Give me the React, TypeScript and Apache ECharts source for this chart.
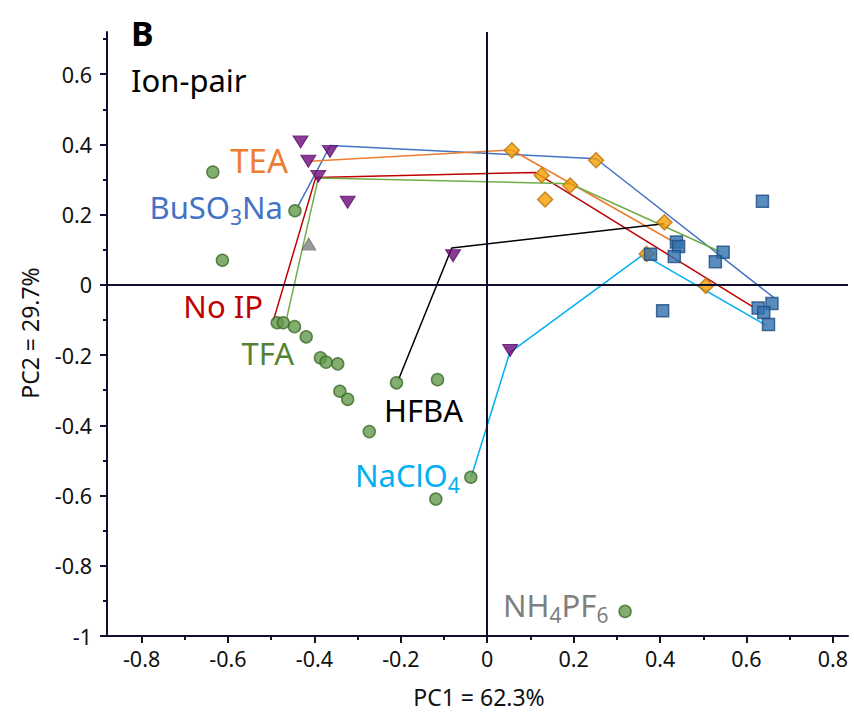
import { useEffect, useRef } from "react";
import * as echarts from "echarts";

// ---- data ----
const xMajorTicks = [-0.8, -0.6, -0.4, -0.2, 0, 0.2, 0.4, 0.6, 0.8];
const xMinorTicks = [-0.7, -0.5, -0.3, -0.1, 0.1, 0.3, 0.5, 0.7];
const yMajorTicks = [-1, -0.8, -0.6, -0.4, -0.2, 0, 0.2, 0.4, 0.6];
const yMinorTicks = [-0.9, -0.7, -0.5, -0.3, -0.1, 0.1, 0.3, 0.5, 0.7];

const greenCircles = [
  [-0.635, 0.321], [-0.445, 0.211], [-0.613, 0.07], [-0.486, -0.108], [-0.472, -0.108],
  [-0.446, -0.119], [-0.419, -0.148], [-0.386, -0.208], [-0.373, -0.22], [-0.346, -0.225],
  [-0.341, -0.303], [-0.323, -0.326], [-0.273, -0.418], [-0.21, -0.279], [-0.115, -0.27],
  [-0.038, -0.548], [-0.119, -0.61], [0.319, -0.93],
];
const purpleTriangles = [
  [-0.432, 0.407], [-0.414, 0.352], [-0.364, 0.38], [-0.391, 0.309], [-0.323, 0.235],
  [-0.079, 0.083], [0.053, -0.187],
];
const grayTriangles = [[-0.413, 0.116]];
const orangeDiamonds = [
  [0.057, 0.383], [0.126, 0.312], [0.134, 0.243], [0.192, 0.283], [0.252, 0.355],
  [0.41, 0.178], [0.369, 0.088], [0.506, -0.003],
];
const blueSquares = [
  [0.637, 0.238], [0.438, 0.122], [0.443, 0.109], [0.433, 0.081], [0.378, 0.087],
  [0.546, 0.093], [0.528, 0.066], [0.406, -0.074], [0.627, -0.066], [0.659, -0.053],
  [0.64, -0.079], [0.651, -0.113],
];

const buso3naPath = [[-0.44, 0.219], [-0.363, 0.397], [0.252, 0.359], [0.665, -0.038]];
const teaPath = [[-0.411, 0.352], [0.057, 0.384], [0.439, 0.117]];
const noIpPath = [[-0.495, -0.102], [-0.397, 0.306], [0.111, 0.32], [0.614, -0.062]];
const tfaPath = [[-0.464, -0.094], [-0.391, 0.304], [0.192, 0.288], [0.538, 0.095]];
const hfbaPath = [[-0.205, -0.269], [-0.082, 0.105], [0.409, 0.174]];
const naclo4Path = [[-0.037, -0.547], [0.052, -0.193], [0.361, 0.086], [0.644, -0.114]];

const FONT = "'Noto Sans', 'Open Sans', sans-serif";
const AXIS = "#10102e";

export default function App() {
  const ref = useRef<HTMLDivElement>(null);
  useEffect(() => {
    const chart = echarts.init(ref.current!, null, { renderer: "svg" });
    const lineSeries = (name: string, data: number[][], color: string) => ({
      name,
      type: "line",
      data,
      symbol: "none",
      showSymbol: false,
      lineStyle: { color, width: 1.5 },
      z: 2,
    });
    const big = (fill: string) => ({ fontSize: 31, fontFamily: FONT, fill, lineHeight: 40 });
    const sub = (fill: string) => ({ fontSize: 21, fontFamily: FONT, fill, lineHeight: 16, verticalAlign: "bottom" });
    const label = (x: number, y: number, align: string, parts: string, color: string, size = 31) => ({
      type: "text",
      x,
      y,
      style: {
        text: parts,
        align,
        verticalAlign: "middle",
        rich: { a: { ...big(color), fontSize: size }, s: sub(color) },
      },
      z: 10,
    });
    chart.setOption({
      animation: false,
      backgroundColor: "#ffffff",
      grid: { left: 107, right: 6, top: 32, bottom: 78 },
      xAxis: [
        {
          type: "value",
          min: -0.88,
          max: 0.835,
          splitLine: { show: false },
          axisLine: { onZero: false, lineStyle: { color: AXIS, width: 2 } },
          axisTick: { customValues: xMajorTicks, length: 7, lineStyle: { color: AXIS, width: 2 } },
          axisLabel: { customValues: xMajorTicks, fontSize: 21.5, fontFamily: FONT, color: "#111", margin: 11 },
        },
        {
          type: "value",
          min: -0.88,
          max: 0.835,
          position: "bottom",
          splitLine: { show: false },
          axisLine: { show: false, onZero: false },
          axisTick: { customValues: xMinorTicks, length: 4, lineStyle: { color: AXIS, width: 2 } },
          axisLabel: { show: false },
        },
      ],
      yAxis: [
        {
          type: "value",
          min: -1,
          max: 0.72,
          splitLine: { show: false },
          axisLine: { onZero: false, lineStyle: { color: AXIS, width: 2 } },
          axisTick: { customValues: yMajorTicks, length: 7, lineStyle: { color: AXIS, width: 2 } },
          axisLabel: { customValues: yMajorTicks, fontSize: 21.5, fontFamily: FONT, color: "#111", margin: 15 },
        },
        {
          type: "value",
          min: -1,
          max: 0.72,
          position: "left",
          splitLine: { show: false },
          axisLine: { show: false, onZero: false },
          axisTick: { customValues: yMinorTicks, length: 4, lineStyle: { color: AXIS, width: 2 } },
          axisLabel: { show: false },
        },
      ],
      series: [
        {
          type: "scatter",
          data: [],
          markLine: {
            silent: true,
            symbol: ["none", "none"],
            label: { show: false },
            lineStyle: { color: AXIS, width: 2, type: "solid" },
            data: [{ xAxis: 0 }, { yAxis: 0 }],
          },
        },
        lineSeries("BuSO3Na", buso3naPath, "#4472c4"),
        lineSeries("TEA", teaPath, "#ed7d31"),
        lineSeries("No IP", noIpPath, "#c00000"),
        lineSeries("TFA", tfaPath, "#70ad47"),
        lineSeries("HFBA", hfbaPath, "#000000"),
        lineSeries("NaClO4", naclo4Path, "#00b0f0"),
        {
          type: "scatter",
          data: greenCircles,
          symbol: "circle",
          symbolSize: 12,
          itemStyle: { color: "#639a4b", borderColor: "#3d6a2a", borderWidth: 1.5 },
          z: 3,
        },
        {
          type: "scatter",
          data: purpleTriangles,
          symbol: "triangle",
          symbolRotate: 180,
          symbolSize: [15, 12],
          itemStyle: { color: "#6a0c78", borderColor: "#5a0868", borderWidth: 1 },
          z: 3,
        },
        {
          type: "scatter",
          data: grayTriangles,
          symbol: "triangle",
          symbolSize: [14, 12],
          itemStyle: { color: "#808080", borderColor: "#6e6e6e", borderWidth: 1 },
          z: 3,
        },
        {
          type: "scatter",
          data: orangeDiamonds,
          symbol: "diamond",
          symbolSize: 15,
          itemStyle: { color: "#f59d00", borderColor: "#b8740c", borderWidth: 1.5 },
          z: 3,
        },
        {
          type: "scatter",
          data: blueSquares,
          symbol: "rect",
          symbolSize: 12,
          itemStyle: { color: "#3070b0", borderColor: "#1f4c80", borderWidth: 1.5 },
          z: 3,
        },
      ],
      graphic: [
        { type: "text", x: 131, y: 33, style: { text: "B", fontSize: 34, fontWeight: "bold", fontFamily: FONT, fill: "#000", verticalAlign: "middle" } },
        { type: "text", x: 131, y: 80, style: { text: "Ion-pair", fontSize: 31, fontFamily: FONT, fill: "#000", verticalAlign: "middle" } },
        label(288, 160, "right", "{a|TEA}", "#ed7d31", 33),
        label(283, 207, "right", "{a|BuSO}{s|3}{a|Na}", "#4472c4"),
        label(263, 306, "right", "{a|No IP}", "#c00000"),
        label(294, 353, "right", "{a|TFA}", "#548235"),
        label(384, 410, "left", "{a|HFBA}", "#000000"),
        label(355, 475, "left", "{a|NaClO}{s|4}", "#00b0f0"),
        label(503, 605, "left", "{a|NH}{s|4}{a|PF}{s|6}", "#7f7f7f"),
        { type: "text", x: 479, y: 697, style: { text: "PC1 = 62.3%", fontSize: 23, fontFamily: FONT, fill: "#111", align: "center", verticalAlign: "middle" } },
        { type: "text", x: 30, y: 333, rotation: Math.PI / 2, style: { text: "PC2 = 29.7%", fontSize: 23, fontFamily: FONT, fill: "#111", align: "center", verticalAlign: "middle" } },
      ],
    });
    return () => chart.dispose();
  }, []);
  return <div ref={ref} style={{ position: "fixed", left: 0, top: 0, width: 854, height: 714 }} />;
}
